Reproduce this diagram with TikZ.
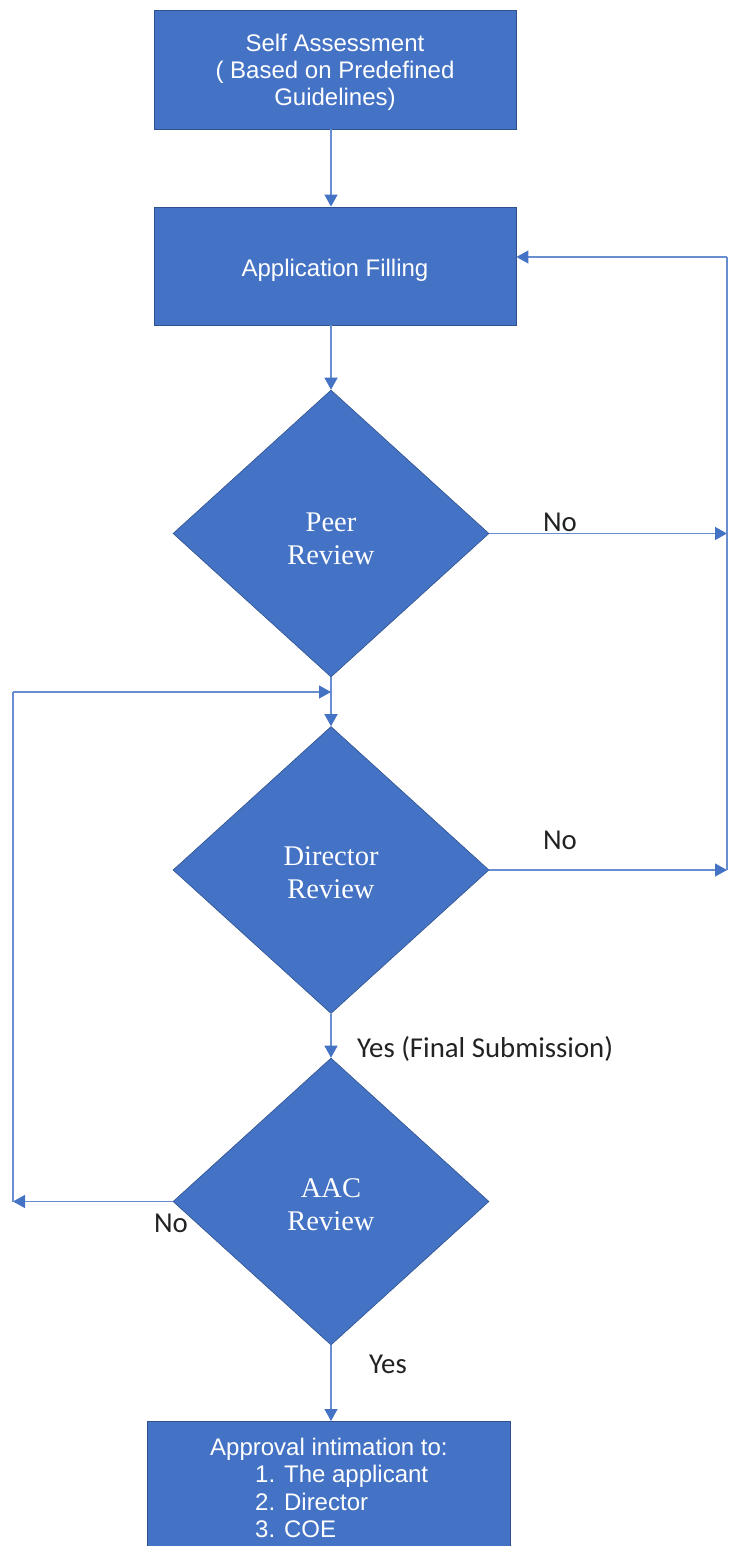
\documentclass[tikz,border=0pt]{standalone}
\usepackage{fontspec}
\setmainfont{Liberation Sans}
\newfontfamily\serifface{Liberation Serif}
\newfontfamily\labelface{Carlito}
\usetikzlibrary{arrows.meta,shapes.geometric}
\definecolor{flowblue}{HTML}{4472C4}
\definecolor{flowedge}{HTML}{2F528F}
\definecolor{labelgray}{HTML}{222222}
\begin{document}
\begin{tikzpicture}[x=1pt,y=-1pt,
  procbox/.style={draw=flowedge, line width=0.8pt, fill=flowblue, inner sep=0pt},
  boxtext/.style={text=white, inner sep=0pt, align=center,
    font=\fontsize{24}{27}\selectfont},
  decision/.style={diamond, draw=flowedge, line width=0.6pt, fill=flowblue,
    inner sep=0pt, minimum width=316pt, minimum height=287pt},
  dectext/.style={text=white, inner sep=0pt, align=center,
    font=\serifface\fontsize{28.5}{33}\selectfont},
  flow/.style={draw=flowblue!80!white, line width=1.3pt,
    -{Triangle[length=12pt,width=13pt,color=flowblue]}},
  link/.style={draw=flowblue!80!white, line width=1.3pt},
  lbl/.style={font=\labelface\fontsize{28.8}{33}\selectfont, text=labelgray, inner sep=0pt}
]
\useasboundingbox (0,0) rectangle (728,1546);
\clip (0,0) rectangle (728,1546);

% process boxes
\node[procbox, minimum width=362pt, minimum height=119pt,
  label={[boxtext, yshift=-3pt]center:Self Assessment\\( Based on Predefined\\Guidelines)}]
  (self) at (335,69.5) {};
\node[procbox, minimum width=362pt, minimum height=118pt,
  label={[boxtext, yshift=-4pt]center:Application Filling}]
  (fill) at (335,266) {};

% decisions
\node[decision, label={[dectext, yshift=-5pt]center:Peer\\Review}] (peer) at (331,533.5) {};
\node[decision, label={[dectext, yshift=-3pt]center:Director\\Review}] (dir) at (331,870) {};
\node[decision, label={[dectext, yshift=-3pt]center:AAC\\Review}] (aac) at (331,1201.5) {};

% final box (runs past the lower edge)
\node[procbox, minimum width=363pt, minimum height=150pt, anchor=north] (notify) at (328.5,1421) {};
\node[boxtext, anchor=north west, align=left,
  font=\fontsize{24}{27.3}\selectfont] (notifytext) at (210,1438)
  {Approval intimation to:\\
   \hspace*{45pt}1. The applicant\\
   \hspace*{45pt}2. Director\\
   \hspace*{45pt}3. COE};

% main flow
\draw[flow] (self.south -| peer) -- (fill.north -| peer);
\draw[flow] (fill.south -| peer) -- (peer.north);
\draw[flow] (peer.south) -- (dir.north);
\draw[flow] (dir.south) -- (aac.north);
\draw[flow] (aac.south) -- (notify.north -| aac);

% rejection loop on the right
\coordinate (railtop) at (727,257);
\draw[flow] (peer.east) -- (peer.east -| railtop);
\draw[flow] (dir.east) -- (dir.east -| railtop);
\draw[link] (dir.east -| railtop) -- (railtop);
\draw[flow] (railtop) -- (fill.east |- railtop);

% rejection loop on the left
\coordinate (loopleft) at (13,692);
\draw[flow] (aac.west) -- (aac.west -| loopleft);
\draw[link] (aac.west -| loopleft) -- (loopleft);
\draw[flow] (loopleft) -- (loopleft -| peer.south);

% branch labels
\node[lbl, anchor=base] (nopeer) at (560,531) {No};
\node[lbl, anchor=base] (nodir) at (560,849) {No};
\node[lbl, anchor=base] (noaac) at (171,1232) {No};
\node[lbl, anchor=base west] (yesfinal) at (357,1057) {Yes (Final Submission)};
\node[lbl, anchor=base west] (yes) at (369,1373) {Yes};
\end{tikzpicture}
\end{document}
